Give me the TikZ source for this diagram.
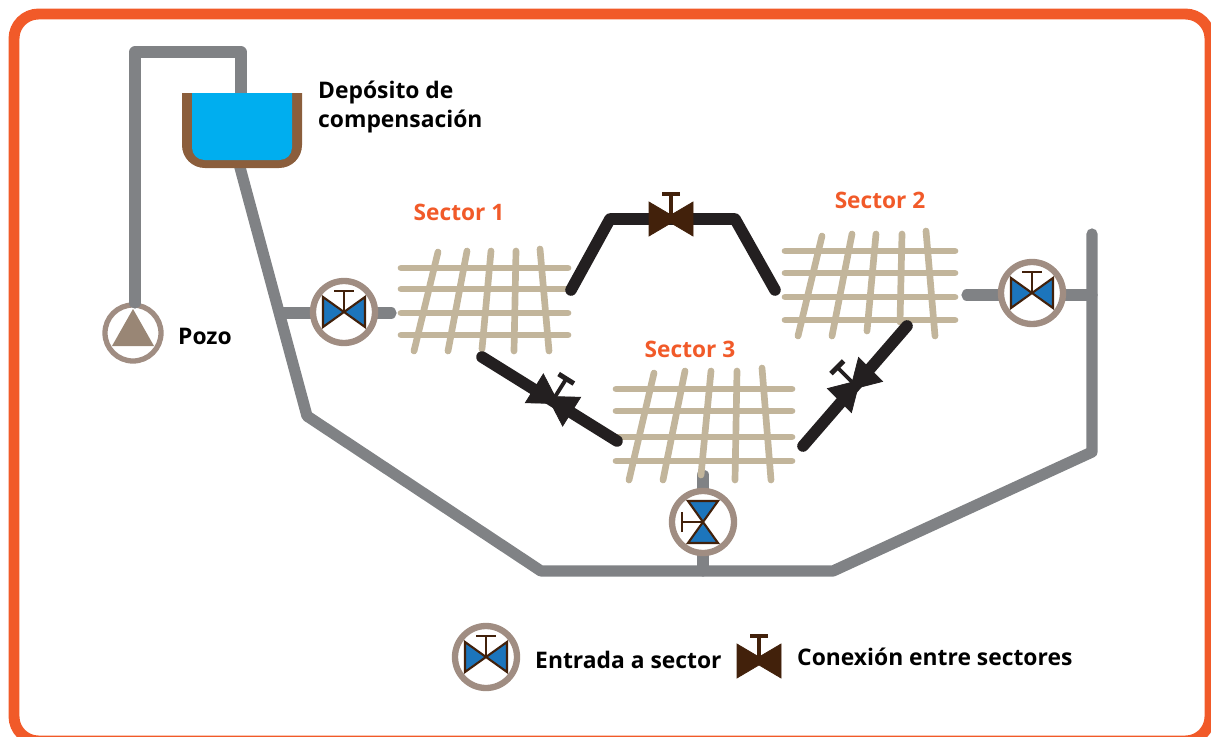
\documentclass[tikz,border=0pt]{standalone}
\usepackage{fontspec}
\setmainfont{Open Sans}
\usepackage{xcolor}
\definecolor{framecol}{HTML}{F15A29}
\definecolor{pipecol}{HTML}{808285}
\definecolor{linkcol}{HTML}{231F20}
\definecolor{gridcol}{HTML}{C2B59B}
\definecolor{ringcol}{HTML}{A08D82}
\definecolor{conecol}{HTML}{998675}
\definecolor{wallcol}{HTML}{8B5E3C}
\definecolor{watercol}{HTML}{00AEEF}
\definecolor{bluecol}{HTML}{1C75BC}
\definecolor{browncol}{HTML}{42210B}
\tikzset{
    pipe/.style={draw=pipecol, line width=6.4pt, line cap=round, line join=round},
    link/.style={draw=linkcol, line width=6.6pt, line cap=round, line join=round},
    mesh/.style={draw=gridcol, line width=3.8pt, line cap=round},
    label/.style={font=\bfseries\fontsize{13}{17}\selectfont, align=left, anchor=west, text=black},
    sectorlabel/.style={font=\bfseries\fontsize{12.9}{15}\selectfont, text=framecol},
    inletvalve/.pic={
        \draw[draw=ringcol, line width=3.6pt, fill=white] (0,0) circle (31);
        \fill[bluecol, draw=browncol, line width=1.2pt, line join=miter]
            (-21,-15) -- (21,15) -- (21,-15) -- (-21,15) -- cycle;
        \draw[browncol, line width=1.3pt] (0,0) -- (0,-21) (-10,-21) -- (10,-21);
    },
    linkvalve/.pic={
        \fill[pic actions] (-22,-17) -- (0,-4) -- (22,-17) -- (22,17) -- (0,4) -- (-22,17) -- cycle;
        \draw[pic actions, line width=2.2pt] (0,0) -- (0,-25);
        \draw[pic actions, line width=2.8pt] (-9,-25) -- (9,-25);
    }
}

\begin{document}
\begin{tikzpicture}[x=0.02cm, y=-0.02cm]
    \useasboundingbox (0,0) rectangle (1211,737);

    % Frame
    \draw[framecol, line width=6.2pt, rounded corners=14pt] (14,14) rectangle (1210,741);

    % Pump
    \draw[ringcol, line width=3pt] (133,333) circle (28);
    \fill[conecol] (133,309) -- (154,346) -- (112,346) -- cycle;

    % Well and tank
    \coordinate (PumpTop) at (135,303);
    \coordinate (PipeA) at (135,52);
    \coordinate (PipeB) at (241,52);
    \coordinate (TankIn) at (241,100);
    \draw[pipe] (PumpTop) -- (PipeA) -- (PipeB) -- (TankIn);

    % Main ring
    \coordinate (TankOut) at (238,160);
    \coordinate (Bend1) at (307,416);
    \coordinate (Bend2) at (541,571);
    \coordinate (Bend3) at (833,571);
    \coordinate (Bend4) at (1092,452);
    \coordinate (RiserTop) at (1092,234);
    \draw[pipe] (TankOut) -- (Bend1) -- (Bend2) -- (Bend3) -- (Bend4) -- (RiserTop);

    % Branches to the sectors
    \coordinate (Tee1) at (281,313);
    \coordinate (Feed1) at (391,313);
    \coordinate (Tee2) at (1092,295);
    \coordinate (Feed2) at (967,295);
    \coordinate (Tee3) at (703,571);
    \coordinate (Feed3) at (703,475);
    \draw[pipe] (Tee1) -- (Feed1);
    \draw[pipe] (Tee2) -- (Feed2);
    \draw[pipe] (Tee3) -- (Feed3);

    % Tank
    \fill[wallcol] (182,93) [rounded corners=13pt] -- (182,168) -- (302,168) [sharp corners] -- (302,93) -- cycle;
    \fill[watercol] (192,93) [rounded corners=7pt] -- (192,160) -- (292,160) [sharp corners] -- (292,93) -- cycle;

    % Sector 1
    \foreach \y in {268,289,313,335} {
        \draw[mesh] (401,\y) -- (568,\y);
    }
    \foreach \a/\b/\c/\d in {438/252/414/351, 467/251/448/351, 491/251/482/349, 516/251/514/351, 540/249/549/351} {
        \draw[mesh] (\a,\b) -- (\c,\d);
    }

    % Sector 2
    \foreach \y in {251,273,297,320} {
        \draw[mesh] (785,\y) -- (955,\y);
    }
    \foreach \a/\b/\c/\d in {822/236/798/336, 852/234/832/336, 876/234/867/331, 902/234/900/322, 926/231/935/336} {
        \draw[mesh] (\a,\b) -- (\c,\d);
    }

    % Sector 3
    \foreach \y in {389,411,437,461} {
        \draw[mesh] (616,\y) -- (792,\y);
    }
    \foreach \a/\b/\c/\d in {654/373/629/480, 685/371/663/480, 711/371/701/475, 737/371/735/480, 762/368/771/480} {
        \draw[mesh] (\a,\b) -- (\c,\d);
    }

    % Links between sectors
    \coordinate (Link1a) at (571,290);
    \coordinate (Link1b) at (610,219);
    \coordinate (Link1c) at (735,219);
    \coordinate (Link1d) at (775,290);
    \coordinate (Link2a) at (482,357);
    \coordinate (Link2b) at (617,441);
    \coordinate (Link3a) at (803,446);
    \coordinate (Link3b) at (907,326);
    \draw[link] (Link1a) -- (Link1b) -- (Link1c) -- (Link1d);
    \draw[link] (Link2a) -- (Link2b);
    \draw[link] (Link3a) -- (Link3b);

    % Valves
    \pic[fill=browncol, draw=browncol] at (671,219) {linkvalve};
    \pic[fill=linkcol, draw=linkcol, rotate=-32] at (553,400) {linkvalve};
    \pic[fill=linkcol, draw=linkcol, rotate=45] at (855,385) {linkvalve};
    \pic at (344,312) {inletvalve};
    \pic at (1032,293) {inletvalve};
    \pic[rotate=90] at (703,522) {inletvalve};

    % Legend
    \pic at (486,657) {inletvalve};
    \pic[fill=browncol, draw=browncol] at (759,661) {linkvalve};

    % Labels
    \node[label] (tanklabel) at (312,107) {Depósito de\\compensación};
    \node[label] (welllabel) at (172,336) {Pozo};
    \node[label] (inletlabel) at (529,660) {Entrada a sector};
    \node[label] (linklabel) at (791,657) {Conexión entre sectores};
    \node[sectorlabel] (sector1) at (459,212) {Sector 1};
    \node[sectorlabel] (sector2) at (880,200) {Sector 2};
    \node[sectorlabel] (sector3) at (690,349) {Sector 3};
\end{tikzpicture}
\end{document}
